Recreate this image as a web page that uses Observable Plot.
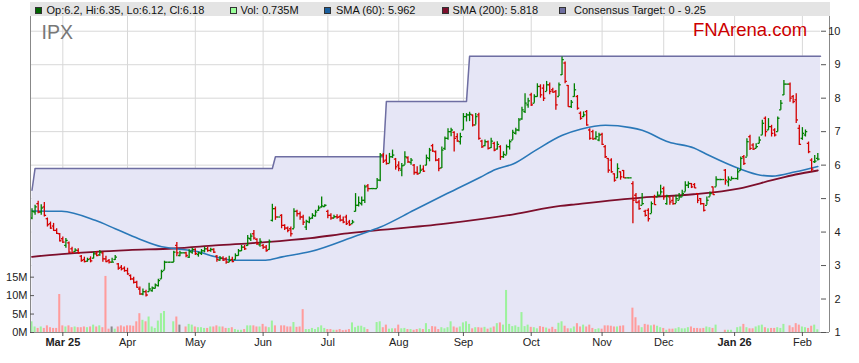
<!DOCTYPE html>
<html><head><meta charset="utf-8">
<script src="https://cdn.jsdelivr.net/npm/d3@7"></script>
<script src="https://cdn.jsdelivr.net/npm/@observablehq/plot@0.6"></script>
<style>
html,body{margin:0;padding:0;background:#fff;}
#wrap{position:relative;width:859px;height:363px;font-family:"Liberation Sans",Arial,sans-serif;overflow:hidden;}
#wrap svg{position:absolute;left:0;top:0;}
.band{position:absolute;left:30px;top:2px;width:800px;height:14px;background:#e4e4e4;}
.sq{position:absolute;top:7px;width:7px;height:7px;box-sizing:border-box;border:1px solid #333;}
.lt{position:absolute;top:3px;font-size:11px;line-height:14px;color:#111;white-space:nowrap;}
.ipx{position:absolute;left:41.5px;top:22.5px;font-size:19.5px;line-height:1;color:#777;}
.fna{position:absolute;left:693px;top:21px;font-size:18.5px;line-height:1;color:#cc0000;}
</style></head>
<body>
<div id="wrap">
  <div class="band"></div>
  <div class="sq" style="left:35px;background:#006400"></div><div class="lt" style="left:46.5px">Op:6.2, Hi:6.35, Lo:6.12, Cl:6.18</div>
  <div class="sq" style="left:230px;background:#99ff99"></div><div class="lt" style="left:240.5px">Vol: 0.735M</div>
  <div class="sq" style="left:324px;background:#1a5f9e"></div><div class="lt" style="left:336px">SMA (60): 5.962</div>
  <div class="sq" style="left:442px;background:#7d0f2c"></div><div class="lt" style="left:452.5px">SMA (200): 5.818</div>
  <div class="sq" style="left:559px;background:#6e6ea0"></div><div class="lt" style="left:574px">Consensus Target: 0 - 9.25</div>
  <div class="ipx">IPX</div>
  <div class="fna">FNArena.com</div>
</div>
<script>
// ---- data (one bar per weekday, 17 Feb 2025 .. 9 Feb 2026) ----
const opens = [4.42,4.60,4.85,4.60,4.75,4.40,4.25,4.18,4.05,3.95,
3.80,3.60,3.68,3.50,3.42,3.45,3.28,3.18,3.13,3.20,
3.22,3.35,3.32,3.38,3.20,3.15,3.10,3.18,3.05,2.95,
2.92,2.85,2.70,2.60,2.50,2.30,2.15,2.22,2.22,2.25,
2.32,2.40,2.60,2.86,3.10,3.10,3.10,3.60,3.30,3.38,
3.38,3.25,3.40,3.48,3.33,3.36,3.44,3.50,3.45,3.48,
3.28,3.16,3.22,3.20,3.10,3.18,3.18,3.30,3.44,3.55,
3.60,3.80,3.95,3.78,3.62,3.60,3.55,3.48,4.35,4.70,
4.45,4.50,4.20,4.12,4.10,4.10,4.62,4.55,4.45,4.15,
4.30,4.42,4.48,4.65,4.75,4.76,4.62,4.50,4.42,4.46,
4.46,4.36,4.45,4.30,4.25,4.62,4.80,4.85,4.95,5.38,
5.30,5.30,5.30,5.55,6.30,6.15,6.05,6.25,6.18,6.00,
5.85,6.00,6.22,6.08,6.00,5.78,5.76,5.88,6.00,6.20,
6.58,6.40,6.15,5.92,6.50,6.80,7.00,6.98,6.85,6.70,
7.05,7.45,7.50,7.50,7.20,7.50,6.72,6.58,6.70,6.52,
6.65,6.48,6.55,6.25,6.30,6.55,6.75,6.95,7.05,7.38,
7.60,7.80,8.10,7.85,8.05,8.35,8.30,8.20,8.40,8.25,
8.20,8.05,8.70,9.05,8.38,7.75,8.05,8.05,7.55,7.45,
7.60,7.05,7.00,6.80,6.75,6.92,6.55,6.20,6.15,5.74,
5.62,5.80,5.84,5.62,5.62,5.45,5.10,4.90,4.80,4.62,
4.65,4.55,5.05,5.05,5.10,5.30,4.85,5.05,4.95,4.85,
4.95,5.05,5.20,5.40,5.45,5.42,5.15,5.00,4.85,4.80,
5.05,5.35,5.35,5.57,5.57,5.85,5.50,5.55,5.60,5.60,
5.84,6.25,6.24,6.85,6.60,6.50,6.65,6.90,7.40,7.05,
7.15,7.05,7.00,7.65,8.10,8.42,8.42,8.05,7.95,7.10,
6.80,6.90,6.65,6.15,6.10,6.20];
const highs = [4.70,4.80,4.92,4.82,4.88,4.42,4.30,4.26,4.10,3.96,
3.85,3.81,3.70,3.55,3.50,3.50,3.30,3.25,3.22,3.26,
3.40,3.42,3.45,3.40,3.28,3.18,3.22,3.30,3.06,3.00,
2.96,2.92,2.72,2.65,2.53,2.36,2.30,2.26,2.47,2.36,
2.45,2.59,2.86,3.13,3.10,3.10,3.43,3.69,3.43,3.38,
3.40,3.47,3.52,3.50,3.40,3.48,3.55,3.55,3.52,3.50,
3.30,3.27,3.26,3.23,3.28,3.25,3.35,3.48,3.60,3.60,
3.90,3.95,4.05,3.80,3.80,3.63,3.60,3.76,4.83,4.75,
4.45,4.52,4.22,4.15,4.15,4.70,4.65,4.60,4.50,4.35,
4.45,4.55,4.65,4.78,5.05,4.82,4.65,4.55,4.50,4.52,
4.50,4.45,4.50,4.35,4.35,5.15,5.05,5.05,5.40,5.42,
5.30,5.30,5.60,6.35,6.35,6.30,6.35,6.45,6.20,6.10,
6.05,6.40,6.25,6.20,6.02,5.95,6.00,5.98,6.30,6.50,
6.62,6.42,6.20,6.54,6.84,7.09,7.10,7.00,6.94,6.95,
7.54,7.54,7.58,7.50,7.54,7.55,6.74,6.75,6.72,6.80,
6.68,6.70,6.58,6.40,6.60,6.75,7.04,7.10,7.39,7.73,
8.13,8.00,8.15,8.10,8.43,8.40,8.40,8.50,8.45,8.30,
8.23,8.45,9.23,9.08,8.38,7.93,8.43,8.08,7.59,7.59,
7.63,7.09,7.04,7.00,6.95,6.95,6.59,6.20,6.19,5.74,
6.04,5.80,5.84,5.62,5.62,5.50,5.15,4.95,5.15,4.65,
4.70,4.90,5.10,5.20,5.40,5.35,5.10,5.05,5.05,5.10,
5.15,5.25,5.50,5.50,5.45,5.45,5.15,5.00,4.85,5.05,
5.20,5.35,5.65,5.57,5.57,5.87,5.65,5.65,5.60,5.89,
6.24,6.29,6.79,6.89,6.64,6.64,6.84,7.34,7.44,7.39,
7.19,7.09,7.44,7.93,8.53,8.42,8.45,8.08,8.13,7.19,
7.12,7.05,6.69,6.19,6.29,6.35];
const lows = [4.37,4.50,4.55,4.50,4.45,4.15,4.08,4.02,3.93,3.70,
3.66,3.52,3.36,3.36,3.40,3.34,3.10,3.08,3.10,3.08,
3.20,3.26,3.28,3.10,3.08,3.05,3.08,3.15,2.86,2.84,
2.80,2.71,2.55,2.45,2.32,2.11,2.10,2.06,2.21,2.20,
2.30,2.36,2.59,2.86,3.10,3.10,3.09,3.26,3.26,3.38,
3.23,3.21,3.34,3.30,3.25,3.30,3.38,3.40,3.40,3.36,
3.10,3.13,3.12,3.04,3.08,3.08,3.16,3.28,3.42,3.45,
3.58,3.72,3.76,3.60,3.55,3.48,3.40,3.46,4.30,4.35,
4.45,4.10,4.05,3.98,3.85,4.10,4.45,4.35,4.20,4.05,
4.25,4.38,4.45,4.62,4.72,4.74,4.40,4.35,4.40,4.38,
4.30,4.25,4.20,4.17,4.24,4.60,4.75,4.78,4.85,5.20,
5.30,5.30,5.30,5.50,6.05,6.00,6.05,6.20,5.85,5.80,
5.65,6.00,6.05,6.00,5.70,5.70,5.76,5.78,5.98,6.10,
6.38,6.10,5.80,5.90,6.44,6.74,6.85,6.39,6.68,6.60,
7.04,7.29,7.30,7.14,7.20,6.74,6.50,6.55,6.45,6.50,
6.40,6.45,6.14,6.20,6.30,6.45,6.74,6.90,7.00,7.34,
7.54,7.70,7.75,7.85,8.03,8.00,7.90,8.20,8.10,8.15,
7.64,8.05,8.68,8.43,7.73,7.69,8.03,7.64,7.34,7.42,
7.16,6.74,6.74,6.74,6.70,6.59,6.20,5.76,5.76,5.49,
5.60,5.55,5.60,5.62,5.62,4.25,4.85,4.65,4.80,4.45,
4.30,4.55,4.80,5.05,5.10,4.95,4.80,4.80,4.80,4.85,
4.95,5.05,5.20,5.30,5.30,5.30,4.85,4.80,4.60,4.80,
5.05,5.10,5.35,5.57,5.57,5.40,5.35,5.55,5.60,5.55,
5.84,5.99,6.24,6.44,6.44,6.49,6.64,6.89,6.84,7.04,
6.84,6.84,6.99,7.64,8.08,8.42,7.88,7.83,7.24,6.59,
6.74,6.84,6.34,5.80,6.05,6.12];
const closes = [4.62,4.75,4.60,4.72,4.50,4.22,4.12,4.05,3.96,3.74,
3.70,3.75,3.40,3.38,3.46,3.38,3.15,3.12,3.18,3.14,
3.35,3.30,3.40,3.20,3.12,3.10,3.10,3.25,2.92,2.90,
2.85,2.75,2.60,2.50,2.35,2.15,2.22,2.12,2.30,2.33,
2.42,2.55,2.82,3.10,3.10,3.10,3.40,3.38,3.38,3.38,
3.30,3.42,3.48,3.36,3.38,3.44,3.50,3.45,3.48,3.40,
3.18,3.22,3.16,3.10,3.15,3.12,3.30,3.44,3.55,3.50,
3.82,3.88,3.82,3.65,3.72,3.55,3.45,3.72,4.70,4.45,
4.45,4.20,4.12,4.05,3.95,4.62,4.55,4.45,4.30,4.32,
4.40,4.50,4.60,4.72,4.78,4.80,4.50,4.42,4.46,4.44,
4.36,4.30,4.25,4.22,4.30,4.80,4.88,4.95,5.35,5.30,
5.30,5.30,5.55,6.30,6.12,6.05,6.25,6.30,5.95,5.90,
5.98,6.25,6.10,6.15,5.78,5.74,5.85,5.82,6.22,6.45,
6.42,6.15,5.90,6.45,6.80,7.00,7.05,6.80,6.72,6.85,
7.45,7.50,7.52,7.20,7.45,6.80,6.55,6.70,6.50,6.72,
6.45,6.62,6.25,6.32,6.55,6.70,6.98,7.05,7.35,7.65,
7.85,7.92,7.80,8.05,8.35,8.10,8.00,8.40,8.20,8.18,
7.80,8.40,9.15,8.50,7.75,7.88,8.25,7.70,7.40,7.50,
7.20,6.80,6.78,6.85,6.90,6.62,6.25,5.85,5.80,5.55,
5.90,5.65,5.62,5.62,5.62,4.95,4.88,4.70,4.85,4.50,
4.40,4.85,4.82,5.10,5.20,5.05,5.08,4.90,4.85,5.00,
5.05,5.15,5.40,5.45,5.35,5.32,4.95,4.85,4.65,4.95,
5.15,5.12,5.57,5.57,5.57,5.55,5.58,5.60,5.60,5.80,
6.20,6.05,6.70,6.50,6.48,6.55,6.75,7.25,7.00,7.15,
6.95,6.90,7.40,7.85,8.42,8.42,8.00,7.90,7.35,6.62,
6.95,7.00,6.40,5.88,6.12,6.18];
// volume in millions of shares
const volumesM = [2.9,1.5,1.1,1.5,1.1,1.8,1.3,1.1,1.1,10.3,
1.8,1.5,1.8,1.3,1.5,1.3,1.3,1.5,1.3,1.5,
2.0,1.5,1.8,1.3,15.2,0.9,1.5,0.9,1.5,1.8,
1.5,1.8,1.8,1.7,2.9,5.1,3.3,2.9,4.2,1.5,
1.1,3.1,5.1,5.7,0,0,2.9,4.2,2.0,0,
1.5,2.2,2.0,1.5,1.3,1.3,1.1,1.1,1.5,1.5,
1.8,1.5,1.5,1.1,1.1,1.3,0.8,0.6,0.6,0.8,
1.8,1.8,1.8,1.5,1.5,2.2,1.5,1.3,3.1,1.8,
0,1.8,1.8,1.5,1.5,2.7,1.4,1.5,6.2,0.8,
0.8,1.1,0.8,1.3,1.8,1.1,0.8,0.8,0.6,0.6,
0.8,0.5,0.6,0.8,2.6,1.3,1.7,1.7,1.3,0.8,
0,0,2.7,2.9,1.3,2.0,0.9,1.0,1.0,2.0,
1.0,1.1,0.8,0.8,0.6,0.8,1.0,0.8,2.4,0.8,
1.6,1.5,0.8,1.3,1.0,1.3,2.9,1.5,1.2,1.5,
2.6,2.9,2.2,1.0,1.3,1.3,1.2,1.4,0.9,1.2,
1.5,2.4,2.6,2.0,11.4,2.2,1.6,1.8,1.4,5.4,
1.6,2.0,1.4,1.3,1.0,1.6,1.4,1.2,0.9,1.4,
0.8,2.5,2.9,1.7,1.0,1.0,1.5,2.4,1.5,2.0,
1.5,2.0,1.1,0.8,1.0,0.9,1.8,1.8,1.7,1.5,
1.5,1.7,1.8,0,0,6.6,4.0,1.8,1.3,2.2,
2.0,1.8,2.0,1.7,1.3,1.1,0.6,0.9,0.9,1.0,
1.3,1.0,1.0,1.3,1.5,1.1,1.1,1.0,1.1,1.5,
1.3,1.1,2.0,0,0,0.6,0.6,0.6,0,1.3,
1.5,2.2,1.3,1.0,1.0,1.5,1.8,2.0,1.3,1.0,
1.1,1.1,1.3,1.1,2.2,0,1.8,1.3,2.4,2.0,
1.5,1.3,1.1,1.7,2.0,0.735];
// moving averages (bar index, value)
const sma60Idx = [0,9.6,20.5,27.0,34.6,42.1,45.9,54.0,59.5,65.0,75.8,81.2,90.4,105.5,113.1,123.9,134.7,145.5,150.4,156.3,163.4,172.1,178.0,186.1,194.2,198.0,206.6,214.8,218.6,229.4,236.4,240.2,247.8,255];
const sma60Val = [4.63,4.62,4.35,4.10,3.80,3.56,3.51,3.41,3.26,3.16,3.16,3.26,3.42,3.90,4.15,4.65,5.15,5.64,5.87,6.04,6.44,6.89,7.07,7.19,7.12,7.04,6.69,6.51,6.34,5.90,5.70,5.67,5.80,5.96];
const sma200Idx = [0,9.6,20.5,31.3,45.9,59.5,75.8,90.4,102.3,134.2,156.3,171.5,176.4,198.0,214.7,229.3,240.2,247.8,255];
const sma200Val = [3.26,3.34,3.41,3.46,3.51,3.60,3.70,3.82,3.96,4.25,4.53,4.78,4.83,5.03,5.13,5.30,5.55,5.72,5.84];
// consensus target: level in force from bar index
const targetFrom = [0,1,79,115,142];
const targetLevel = [5.25,5.90,6.25,7.90,9.25];
// month ticks
const monthIdx = [10,31,53,75,96,119,140,162,185,205,228,250];
const monthLabel = ["Mar 25","Apr","May","Jun","Jul","Aug","Sep","Oct","Nov","Dec","Jan 26","Feb"];
const monthYearStart = [true,false,false,false,false,false,false,false,false,false,true,false];
const priceTicks = [1,2,3,4,5,6,7,8,9,10];
const volTicksM = [0,5,10,15];

// ---- build ----
const GREEN = "#008000", RED = "#d40000";
const N = closes.length;
const bars = closes.map((c, i) => {
  const prev = i > 0 ? closes[i - 1] : -Infinity;
  return {i, o: opens[i], h: highs[i], l: lows[i], c, v: volumesM[i],
          up: c >= prev, dir: c > prev ? 1 : (c < prev ? -1 : 0)};
});
const xDomain = [-0.487, N - 1 + 0.876];
const yDomain = [1, 10.44];
const VOL_UNIT = 0.1102; // price-axis units per million shares (left axis)
const levelAt = i => { let v = targetLevel[0]; targetFrom.forEach((f, k) => { if (i >= f) v = targetLevel[k]; }); return v; };
const target = bars.map(b => ({i: b.i, v: levelAt(b.i)}));
target.push({i: xDomain[1], v: levelAt(N - 1)});
const sma60 = sma60Idx.map((x, k) => ({x, v: sma60Val[k]}));
const sma200 = sma200Idx.map((x, k) => ({x, v: sma200Val[k]}));
const months = monthIdx.map((i, k) => ({i, label: monthLabel[k], bold: monthYearStart[k]}));
const volTickY = volTicksM.map(v => yDomain[0] + v * VOL_UNIT);

const chart = Plot.plot({
  width: 859, height: 363,
  marginLeft: 30, marginRight: 39, marginTop: 16, marginBottom: 31,
  x: {domain: xDomain},
  y: {domain: yDomain},
  color: {type: "identity"},
  style: {fontFamily: "Liberation Sans, Arial, sans-serif", fontSize: "11px", color: "#222", background: "transparent", overflow: "visible"},
  marks: [
    Plot.ruleY(priceTicks, {y: d => d, x1: xDomain[0], x2: xDomain[1], stroke: "#d8d8d8"}),
    Plot.ruleX(monthIdx, {x: d => d, y1: yDomain[0], y2: yDomain[1], stroke: "#d8d8d8"}),
    Plot.areaY(target, {x: "i", y1: yDomain[0], y2: "v", fill: "#e6e6f6"}),
    Plot.line(target, {x: "i", y: "v", stroke: "#6e6ea2", strokeWidth: 1.5}),
    Plot.rect(bars.filter(b => b.v > 0), {
      x1: b => b.i - 0.33, x2: b => b.i + 0.33,
      y1: yDomain[0], y2: b => yDomain[0] + b.v * VOL_UNIT,
      fill: b => b.dir > 0 ? "#9cf29c" : b.dir < 0 ? "#ff9c9c" : "#8a8a8a"
    }),
    Plot.line(sma200, {x: "x", y: "v", curve: "monotone-x", stroke: "#7d0f2c", strokeWidth: 1.8}),
    Plot.line(sma60, {x: "x", y: "v", curve: "monotone-x", stroke: "#2a78b8", strokeWidth: 1.6}),
    Plot.ruleX(bars, {x: "i", y1: "l", y2: "h", stroke: b => b.up ? GREEN : RED, strokeWidth: 1.3}),
    Plot.link(bars, {x1: b => b.i - 0.58, x2: "i", y1: "o", y2: "o", stroke: b => b.up ? GREEN : RED, strokeWidth: 1.3}),
    Plot.link(bars, {x1: "i", x2: b => b.i + 0.58, y1: "c", y2: "c", stroke: b => b.up ? GREEN : RED, strokeWidth: 1.3}),
    // frame lines
    Plot.ruleX([xDomain[0]], {y1: yDomain[0], y2: yDomain[1], stroke: "#888"}),
    Plot.ruleY([yDomain[0]], {x1: xDomain[0], x2: xDomain[1], insetRight: -9, stroke: "#888"}),
    Plot.ruleX([xDomain[1]], {y1: yDomain[0], y2: yDomain[1], dx: 9, stroke: "#888"}),
    // right price axis
    Plot.axisY({anchor: "right", ticks: priceTicks, tickSize: 5, tickFormat: () => "", label: null, stroke: "#555"}),
    Plot.text(priceTicks, {y: d => d, text: d => String(d), frameAnchor: "right", dx: 20, textAnchor: "end", fill: "#222"}),
    // left volume axis
    Plot.ruleY(volTickY, {y: d => d, x1: xDomain[0], x2: xDomain[0], insetRight: -4, stroke: "#555"}),
    Plot.text(volTicksM, {y: v => yDomain[0] + v * VOL_UNIT, text: v => v + "M", frameAnchor: "left", dx: -3, textAnchor: "end", fill: "#222"}),
    // bottom month axis
    Plot.axisX({ticks: monthIdx, tickSize: 4, tickFormat: () => "", label: null, stroke: "#555"}),
    Plot.text(months.filter(m => !m.bold), {x: "i", text: "label", frameAnchor: "bottom", lineAnchor: "top", dy: 6, fill: "#222"}),
    Plot.text(months.filter(m => m.bold), {x: "i", text: "label", frameAnchor: "bottom", lineAnchor: "top", dy: 6, fontWeight: "bold", fill: "#222"})
  ]
});
const wrap = document.getElementById("wrap");
wrap.insertBefore(chart, wrap.firstChild);
</script>
</body></html>
